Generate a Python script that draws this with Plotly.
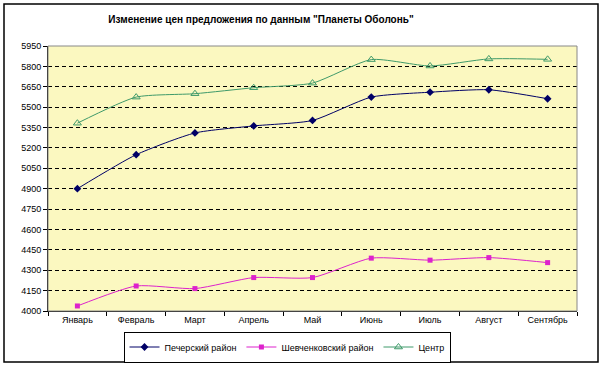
import plotly.graph_objects as go

months = ["Январь", "Февраль", "Март", "Апрель", "Май", "Июнь", "Июль", "Август", "Сентябрь"]
pechersky = [4900, 5150, 5310, 5362, 5402, 5574, 5610, 5628, 5562]
shevchenko = [4037, 4184, 4165, 4246, 4246, 4389, 4374, 4393, 4356]
centr = [5382, 5574, 5599, 5643, 5677, 5850, 5803, 5855, 5852]
y_ticks = list(range(4000, 5951, 150))

FONT = "Liberation Sans, Arial, sans-serif"

fig = go.Figure()
fig.add_trace(go.Scatter(
    x=months, y=pechersky, name="Печерский район", mode="lines+markers",
    line=dict(color="#000066", width=1, shape="spline", smoothing=0.6),
    marker=dict(symbol="diamond", size=6, color="#000066"),
))
fig.add_trace(go.Scatter(
    x=months, y=shevchenko, name="Шевченковский район", mode="lines+markers",
    line=dict(color="#DD22CC", width=1, shape="spline", smoothing=0.6),
    marker=dict(symbol="square", size=5, color="#DD22CC"),
))
fig.add_trace(go.Scatter(
    x=months, y=centr, name="Центр", mode="lines+markers",
    line=dict(color="#3F9A6A", width=1, shape="spline", smoothing=0.6),
    marker=dict(symbol="triangle-up-open", size=7, color="#3F9A6A", line=dict(width=1)),
))

fig.update_layout(
    width=600, height=367, autosize=False,
    margin=dict(l=48, r=23, t=46, b=56, autoexpand=False),
    paper_bgcolor="white",
    plot_bgcolor="#FBF8C0",
    font=dict(family=FONT, size=9, color="black"),
    title=dict(text="<b>Изменение цен предложения по данным \"Планеты Оболонь\"</b>",
               x=261 / 600, xanchor="center", xref="container", y=1 - 19 / 367, yanchor="middle",
               yref="container",
               font=dict(family=FONT, size=10, color="black")),
    showlegend=True,
    legend=dict(orientation="h", x=287 / 600, xref="container", xanchor="center",
                y=1 - 347 / 367, yref="container", yanchor="middle",
                bordercolor="black", borderwidth=1, bgcolor="white",
                font=dict(family=FONT, size=9), itemwidth=30,
                tracegroupgap=0),
    shapes=[
        dict(type="rect", xref="paper", yref="paper", x0=-44 / 529, x1=550 / 529,
             y0=-(362 - 311) / 265, y1=1 + (46 - 4) / 265,
             line=dict(color="black", width=1.5), fillcolor="rgba(0,0,0,0)", layer="below"),
        dict(type="rect", xref="paper", yref="paper", x0=0, x1=1, y0=0, y1=1,
             line=dict(color="#888888", width=1), fillcolor="rgba(0,0,0,0)", layer="above"),
    ],
)

fig.update_xaxes(
    type="category", tickson="boundaries", ticks="outside", ticklen=4,
    tickcolor="black", showline=True, linecolor="black", linewidth=1,
    showgrid=False, range=[-0.5, 8.5], tickfont=dict(family=FONT, size=9),
    automargin=False,
)
fig.update_yaxes(
    range=[4000, 5950], tickvals=y_ticks, ticks="outside", ticklen=4,
    tickcolor="black", showline=True, linecolor="black", linewidth=1,
    showgrid=True, gridcolor="black", gridwidth=1, griddash="4px,3px",
    zeroline=False, tickfont=dict(family=FONT, size=9), automargin=False,
)

fig.write_html(
    "out.html",
    config={"displayModeBar": False},
    post_script="document.body.style.margin='0';document.body.style.overflow='hidden';",
)
